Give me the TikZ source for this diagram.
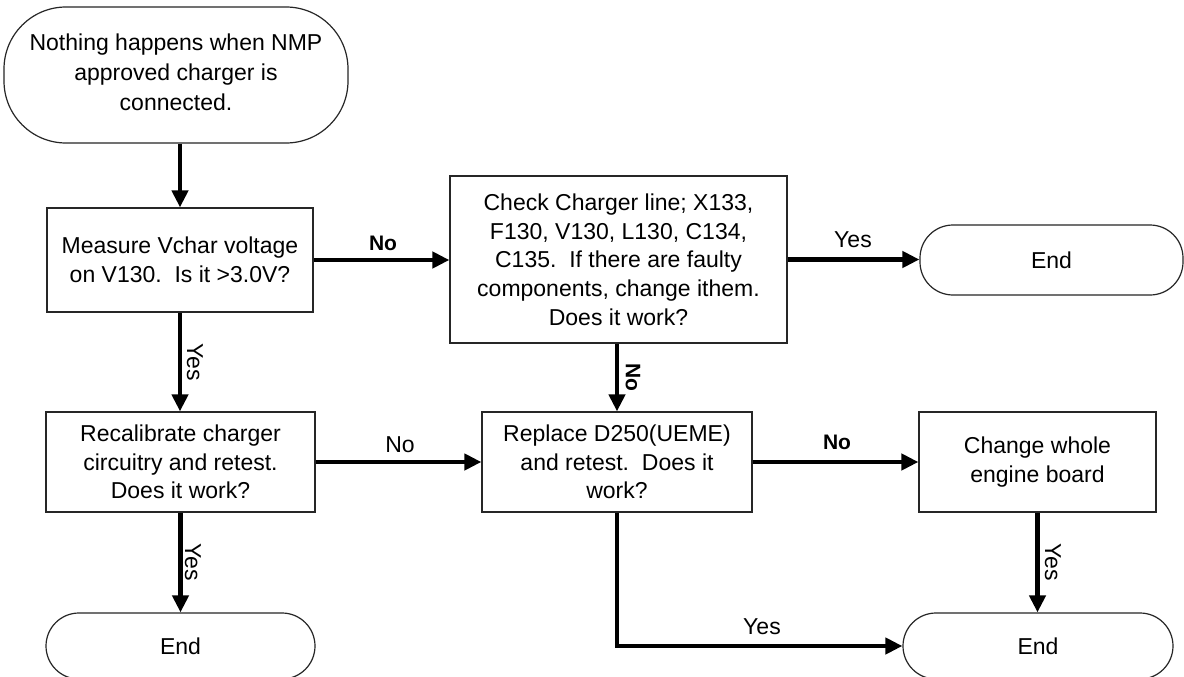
\documentclass[tikz,border=0pt]{standalone}
\usepackage{fontspec}
\setmainfont{Liberation Sans}
\usetikzlibrary{arrows.meta}
\begin{document}
\begin{tikzpicture}[x=1pt,y=-1pt,
  box/.style={draw=black!85, line width=1.2pt, fill=white, align=center, inner sep=0pt,
    font=\fontsize{23}{28.7}\selectfont},
  term/.style={box, rounded corners=#1},
  flow/.style={line width=4.5pt, -{Triangle[length=17pt,width=16pt]}},
  lbl/.style={font=\fontsize{23}{26}\selectfont, inner sep=0pt},
  blbl/.style={font=\fontsize{21}{26}\selectfont\bfseries, inner sep=0pt},
]
\useasboundingbox[fill=white] (0,0) rectangle (1184,677);

\node[term=62pt, minimum width=344pt, minimum height=136pt, font=\fontsize{23}{30}\selectfont] (start) at (176,75)
  {\raisebox{5pt}{\begin{tabular}{@{}c@{}}Nothing happens when NMP\\approved charger is\\connected.\end{tabular}}};
\node[box, minimum width=266pt, minimum height=104pt] (measure) at (180,260)
  {Measure Vchar voltage\\on V130.\ \ Is it >3.0V?};
\node[box, minimum width=337pt, minimum height=167pt] (check) at (618.5,259.5)
  {Check Charger line; X133,\\F130, V130, L130, C134,\\C135.\ \ If there are faulty\\components, change ithem.\\Does it work?};
\node[term=33pt, minimum width=263pt, minimum height=70pt] (end1) at (1051.5,260) {End};
\node[box, minimum width=269pt, minimum height=100pt] (recal) at (180.5,462)
  {Recalibrate charger\\circuitry and retest.\\Does it work?};
\node[box, minimum width=270pt, minimum height=100pt] (replace) at (617,462)
  {Replace D250(UEME)\\and retest.\ \ Does it\\work?};
\node[box, minimum width=237pt, minimum height=100pt] (change) at (1037.5,462)
  {Change whole\\engine board};
\node[term=33pt, minimum width=269pt, minimum height=66pt] (end2) at (180.5,646) {End};
\node[term=33pt, minimum width=270pt, minimum height=66pt] (end3) at (1038,646) {End};

\draw[flow] (measure.north |- start.south) -- (measure.north);
\draw[flow] (measure.east) -- (measure.east -| check.west);
\draw[flow] (check.east) -- (check.east -| end1.west);
\draw[flow] (measure.south) -- (measure.south |- recal.north);
\draw[flow] (replace.north |- check.south) -- (replace.north);
\draw[flow] (recal.east) -- (replace.west);
\draw[flow] (replace.east) -- (change.west);
\draw[flow] (recal.south) -- (recal.south |- end2.north);
\draw[flow] (change.south) -- (change.south |- end3.north);
\draw[flow] (replace.south) |- (end3.west);

\node[blbl] (no1) at (383,243) {No};
\node[lbl] (yes1) at (853,240) {Yes};
\node[lbl, rotate=-90] (yes2) at (195,362) {Yes};
\node[blbl, rotate=-90] (no2) at (633,377) {No};
\node[lbl] (no3) at (400,445) {No};
\node[blbl] (no4) at (837,442) {No};
\node[lbl, rotate=-90] (yes3) at (193,562) {Yes};
\node[lbl, rotate=-90] (yes4) at (1053,562) {Yes};
\node[lbl] (yes5) at (762,627) {Yes};
\end{tikzpicture}
\end{document}
